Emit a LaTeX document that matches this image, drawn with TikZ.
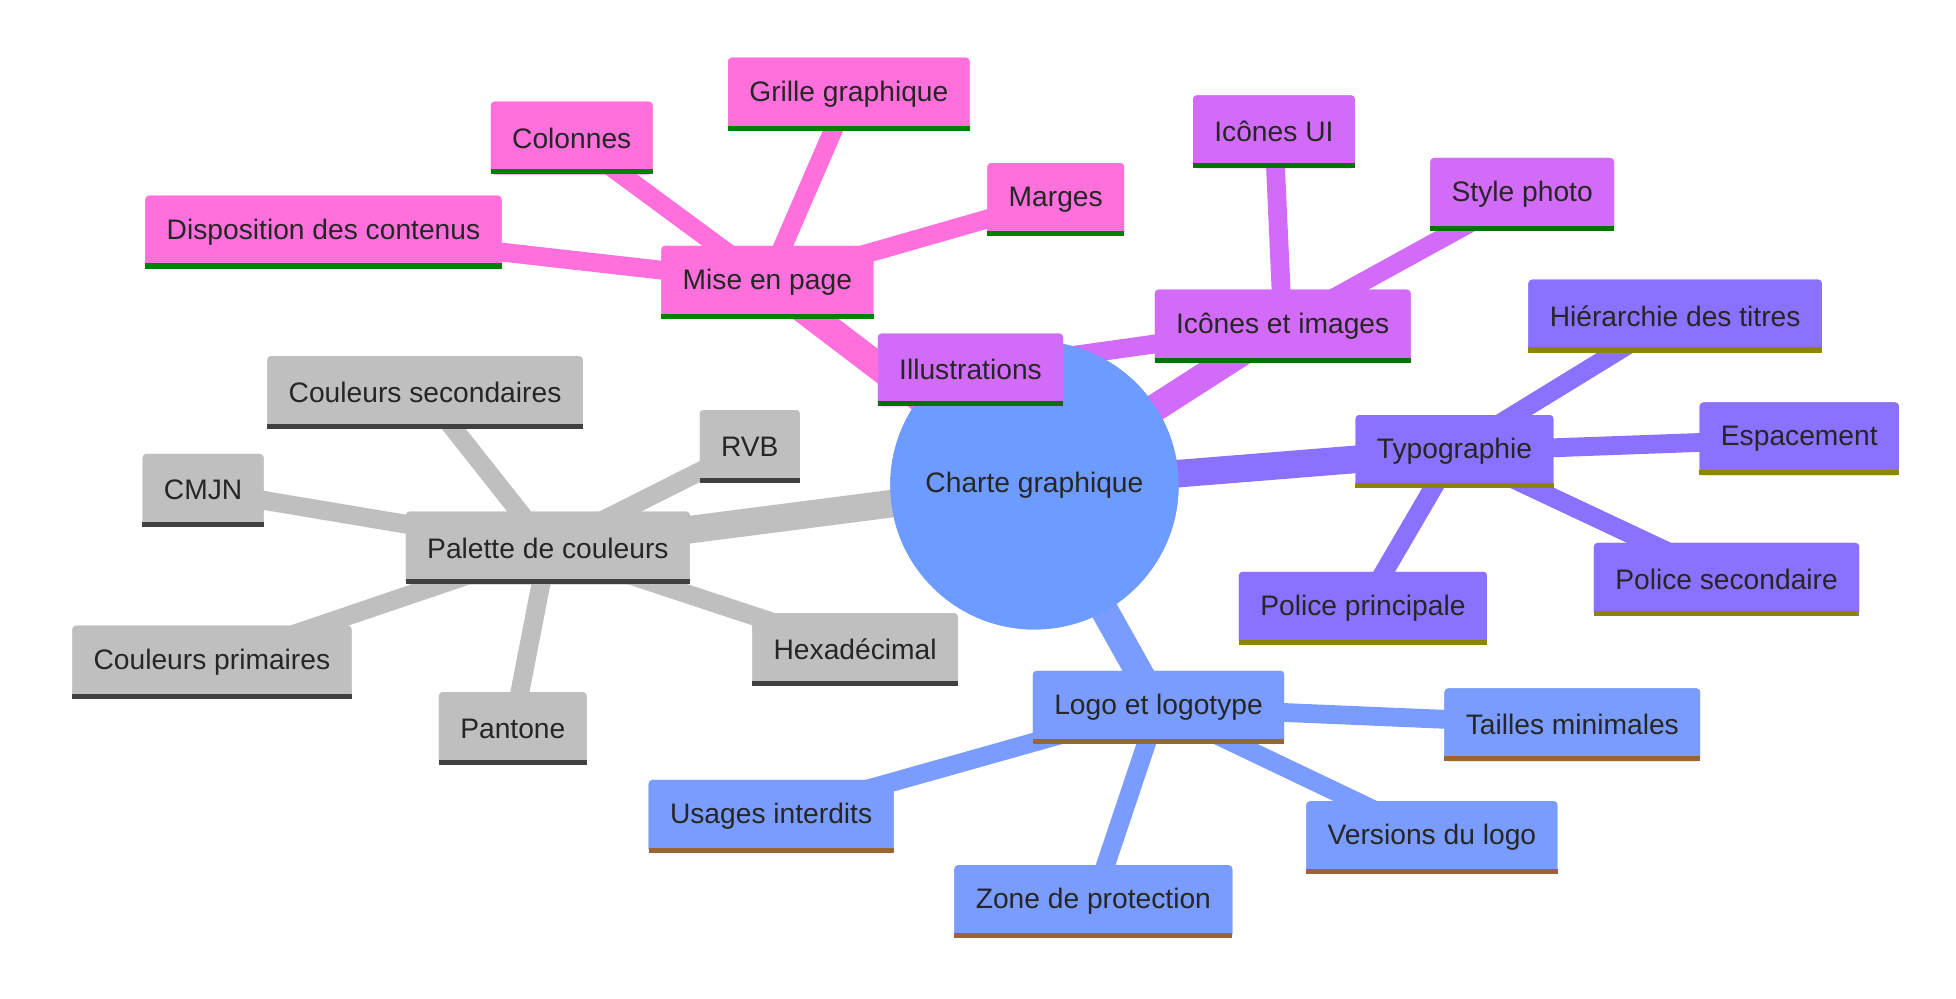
\documentclass[tikz,border=0pt]{standalone}
\usepackage{fontspec}
\setmainfont{Liberation Sans}
\begin{document}
\begin{tikzpicture}[x=0.05cm,y=-0.05cm,
  box/.style={rectangle,rounded corners=0.15cm,inner xsep=0.85cm,inner ysep=0pt,minimum height=2.9cm,text=black!85,font=\fontsize{32}{36}\selectfont},
  gr/.style={box,fill=gray!50},
  pk/.style={box,fill=pinkc},
  vi/.style={box,fill=violc},
  ty/.style={box,fill=typc},
  bl/.style={box,fill=bluec},
  e1/.style={line width=1.1cm},
  e2/.style={line width=0.75cm}]
\definecolor{pinkc}{HTML}{FF70DC}
\definecolor{violc}{HTML}{D26CF8}
\definecolor{typc}{HTML}{8C70FF}
\definecolor{bluec}{HTML}{7A9CFF}
\definecolor{rootc}{HTML}{6D9BFF}
\useasboundingbox (0,0) rectangle (1560,796);
\node[circle,fill=rootc,minimum size=11.5cm,text=black!85,font=\fontsize{32}{36}\selectfont] (root) at (825,387) {Charte graphique};
\node[gr] (pal) at (437,437) {Palette de couleurs};
\node[gr] (cs) at (339,313) {Couleurs secondaires};
\node[gr] (rvb) at (598,356) {RVB};
\node[gr] (cmjn) at (162,391) {CMJN};
\node[gr] (cp) at (169,528) {Couleurs primaires};
\node[gr] (pan) at (409,581) {Pantone};
\node[gr] (hex) at (682,518) {Hexadécimal};
\node[pk] (mep) at (612,225) {Mise en page};
\node[pk] (disp) at (258,185) {Disposition des contenus};
\node[pk] (col) at (456,110) {Colonnes};
\node[pk] (gri) at (677,75) {Grille graphique};
\node[pk] (mar) at (842,159) {Marges};
\node[vi] (ici) at (1023,260) {Icônes et images};
\node[vi] (ill) at (774,295) {Illustrations};
\node[vi] (ui) at (1016,105) {Icônes UI};
\node[vi] (sp) at (1214,155) {Style photo};
\node[ty] (typ) at (1160,360) {Typographie};
\node[ty] (hie) at (1336,252) {Hiérarchie des titres};
\node[ty] (esp) at (1435,350) {Espacement};
\node[ty] (ps) at (1377,462) {Police secondaire};
\node[ty] (pp) at (1087,485) {Police principale};
\node[bl] (logo) at (924,564) {Logo et logotype};
\node[bl] (tm) at (1254,578) {Tailles minimales};
\node[bl] (vl) at (1142,668) {Versions du logo};
\node[bl] (zp) at (872,719) {Zone de protection};
\node[bl] (ui2) at (615,651) {Usages interdits};
\begin{scope}[on background layer/.style={}]
\end{scope}
\begin{pgfinterruptboundingbox}\end{pgfinterruptboundingbox}
% edges (drawn, then nodes redrawn on top)
\foreach \a/\b/\c/\w in {root/pal/gray!50/e1,pal/cs/gray!50/e2,pal/rvb/gray!50/e2,pal/cmjn/gray!50/e2,pal/cp/gray!50/e2,pal/pan/gray!50/e2,pal/hex/gray!50/e2,
 root/mep/pinkc/e1,mep/disp/pinkc/e2,mep/col/pinkc/e2,mep/gri/pinkc/e2,mep/mar/pinkc/e2,
 root/ici/violc/e1,ici/ill/violc/e2,ici/ui/violc/e2,ici/sp/violc/e2,
 root/typ/typc/e1,typ/hie/typc/e2,typ/esp/typc/e2,typ/ps/typc/e2,typ/pp/typc/e2,
 root/logo/bluec/e1,logo/tm/bluec/e2,logo/vl/bluec/e2,logo/zp/bluec/e2,logo/ui2/bluec/e2}
 {\draw[\c,\w] (\a.center)--(\b.center);}
% redraw nodes on top
\node[circle,fill=rootc,minimum size=11.5cm,text=black!85,font=\fontsize{32}{36}\selectfont] at (825,387) {Charte graphique};
\foreach \n/\s/\t/\l in {pal/gr/Palette de couleurs/black!75,cs/gr/Couleurs secondaires/black!75,rvb/gr/RVB/black!75,cmjn/gr/CMJN/black!75,cp/gr/Couleurs primaires/black!75,pan/gr/Pantone/black!75,hex/gr/Hexadécimal/black!75,
 mep/pk/Mise en page/green!50!black,disp/pk/Disposition des contenus/green!50!black,col/pk/Colonnes/green!50!black,gri/pk/Grille graphique/green!50!black,mar/pk/Marges/green!50!black,
 ici/vi/Icônes et images/green!45!black,ill/vi/Illustrations/green!45!black,ui/vi/Icônes UI/green!45!black,sp/vi/Style photo/green!45!black,
 typ/ty/Typographie/olive,hie/ty/Hiérarchie des titres/olive,esp/ty/Espacement/olive,ps/ty/Police secondaire/olive,pp/ty/Police principale/olive,
 logo/bl/Logo et logotype/brown!80!black,tm/bl/Tailles minimales/brown!80!black,vl/bl/Versions du logo/brown!80!black,zp/bl/Zone de protection/brown!80!black,ui2/bl/Usages interdits/brown!80!black}
 {\node[\s] at (\n) {\t};
  \draw[\l,line width=0.2cm] ([yshift=0.1cm]\n.south west)--([yshift=0.1cm]\n.south east);}
\end{tikzpicture}
\end{document}
